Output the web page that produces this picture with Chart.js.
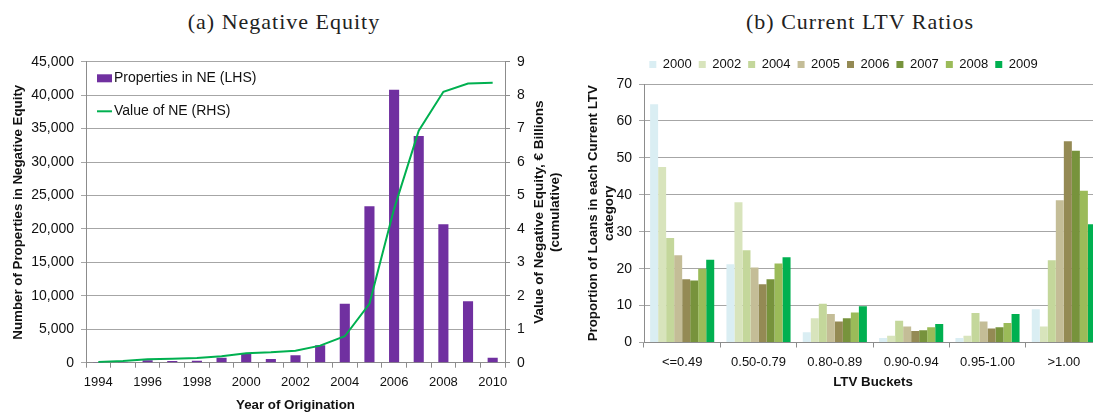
<!DOCTYPE html>
<html>
<head>
<meta charset="utf-8">
<script src="https://cdn.jsdelivr.net/npm/chart.js@4.4.1/dist/chart.umd.min.js"></script>
<style>
  html, body { margin: 0; padding: 0; background: #fff; }
  body { position: relative; width: 1093px; height: 412px; overflow: hidden; }
  .panel-title {
    position: absolute; top: 11px; line-height: 22px;
    font-family: "Liberation Serif", "Times New Roman", serif;
    font-size: 22px; letter-spacing: 1px; color: #222;
    white-space: nowrap; transform: translateX(-50%);
  }
  #boxA { position: absolute; left: 0; top: 40px; width: 575px; height: 380px; }
  #boxB { position: absolute; left: 585px; top: 40px; width: 547px; height: 372px; }
</style>
</head>
<body>
<div class="panel-title" style="left:284px">(a) Negative Equity</div>
<div class="panel-title" style="left:860px">(b) Current LTV Ratios</div>
<div id="boxA"><canvas id="neChart"></canvas></div>
<div id="boxB"><canvas id="ltvChart"></canvas></div>

<script>
// --- data: negative equity by year of origination ---
const years = ['1994', '1995', '1996', '1997', '1998', '1999', '2000', '2001', '2002',
               '2003', '2004', '2005', '2006', '2007', '2008', '2009', '2010'];
const propertiesNE = [100, 100, 350, 250, 300, 750, 1400, 550, 1100,
                      2600, 8800, 23400, 40800, 33900, 20700, 9200, 750];
const valueNE = [0.02, 0.05, 0.1, 0.12, 0.14, 0.19, 0.28, 0.31, 0.36,
                 0.51, 0.79, 1.76, 4.6, 6.94, 8.1, 8.35, 8.37];

// --- data: current LTV distribution by origination cohort ---
const ltvBuckets = ['<=0.49', '0.50-0.79', '0.80-0.89', '0.90-0.94', '0.95-1.00', '>1.00'];
const cohorts = ['2000', '2002', '2004', '2005', '2006', '2007', '2008', '2009'];
const ltv2000 = [64.5, 21.2, 2.8, 1.2, 1.2, 9.0];
const ltv2002 = [47.5, 38.0, 6.6, 1.8, 1.8, 4.3];
const ltv2004 = [28.3, 25.0, 10.5, 5.9, 8.0, 22.3];
const ltv2005 = [23.6, 20.3, 7.7, 4.3, 5.7, 38.5];
const ltv2006 = [17.1, 15.8, 5.7, 3.1, 3.8, 54.5];
const ltv2007 = [16.8, 17.1, 6.6, 3.3, 4.1, 51.9];
const ltv2008 = [20.0, 21.4, 8.1, 4.1, 5.3, 41.1];
const ltv2009 = [22.4, 23.1, 9.8, 5.0, 7.7, 32.0];
const cohortSeries = [ltv2000, ltv2002, ltv2004, ltv2005, ltv2006, ltv2007, ltv2008, ltv2009];
const cohortColors = ['#DAEEF3', '#D8E4BC', '#C4D79B', '#C4BD97', '#948A54', '#77933C', '#9BBB59', '#00B050'];

const gridColor = '#A6A6A6';
const axisColor = '#8C8C8C';
const sans = '"Liberation Sans", Arial, Helvetica, sans-serif';
const axisTitleFont = { weight: 'bold', size: 13.3 };

Chart.defaults.font.family = sans;
Chart.defaults.color = '#111';
Chart.defaults.animation = false;

// legend drawn inside the plot, top-left
const insideLegend = {
  id: 'insideLegend',
  afterDraw(chart) {
    const {ctx, chartArea} = chart;
    const [bars, line] = chart.data.datasets;
    const x0 = chartArea.left + 11;
    ctx.save();
    ctx.font = '14px ' + sans;
    ctx.textBaseline = 'middle';
    ctx.fillStyle = bars.backgroundColor;
    ctx.fillRect(x0, chartArea.top + 12.6, 15, 8);
    ctx.strokeStyle = line.borderColor;
    ctx.lineWidth = 2;
    ctx.beginPath();
    ctx.moveTo(x0, chartArea.top + 49.6);
    ctx.lineTo(x0 + 15, chartArea.top + 49.6);
    ctx.stroke();
    ctx.fillStyle = '#111';
    ctx.fillText(bars.label, x0 + 17, chartArea.top + 16.6);
    ctx.fillText(line.label, x0 + 17, chartArea.top + 49.6);
    ctx.restore();
  }
};

// right axis title reads bottom-to-top, two lines
const rightAxisTitle = {
  id: 'rightAxisTitle',
  afterDraw(chart) {
    const {ctx, chartArea} = chart;
    const s = chart.scales.y1;
    const cy = (chartArea.top + chartArea.bottom) / 2;
    ctx.save();
    ctx.translate(s.left + 34, cy);
    ctx.rotate(-Math.PI / 2);
    ctx.font = 'bold 13.5px ' + sans;
    ctx.fillStyle = '#111';
    ctx.textAlign = 'center';
    ctx.textBaseline = 'middle';
    ctx.fillText('Value of Negative Equity, € Billions', 0, 0);
    ctx.fillText('(cumulative)', 0, 16);
    ctx.restore();
  }
};

new Chart(document.getElementById('neChart'), {
  type: 'bar',
  data: {
    labels: years,
    datasets: [
      {
        type: 'bar', label: 'Properties in NE (LHS)', data: propertiesNE,
        backgroundColor: '#7030A0', yAxisID: 'y',
        categoryPercentage: 1, barPercentage: 0.41, order: 2
      },
      {
        type: 'line', label: 'Value of NE (RHS)', data: valueNE,
        borderColor: '#00B050', borderWidth: 2, pointRadius: 0, tension: 0,
        yAxisID: 'y1', order: 1
      }
    ]
  },
  options: {
    responsive: true,
    maintainAspectRatio: false,
    layout: { padding: { top: 21.7, left: 0, right: 0, bottom: 0 } },
    plugins: { legend: { display: false }, tooltip: { enabled: false } },
    scales: {
      x: {
        grid: { drawOnChartArea: false, tickLength: 5, color: axisColor },
        border: { color: axisColor },
        ticks: {
          autoSkip: false, maxRotation: 0, padding: 7, font: { size: 13 },
          callback: (v, i) => (i % 2 === 0 ? years[i] : '')
        },
        title: { display: true, text: 'Year of Origination', font: axisTitleFont,
                 padding: { top: 0, bottom: 7 } },
        afterFit: s => { s.height = 57.3; }
      },
      y: {
        position: 'left', min: 0, max: 45000,
        ticks: { stepSize: 5000, padding: 7, font: { size: 14 },
                 callback: v => v.toLocaleString('en-US') },
        grid: { color: gridColor, tickLength: 5 },
        border: { color: axisColor },
        title: { display: true, text: 'Number of Properties in Negative Equity',
                 font: axisTitleFont, padding: { top: 10.3, bottom: 0 } },
        afterFit: s => { s.width = 86; }
      },
      y1: {
        position: 'right', min: 0, max: 9,
        ticks: { stepSize: 1, padding: 7, font: { size: 14 } },
        grid: { drawOnChartArea: false, tickLength: 5, color: axisColor },
        border: { color: axisColor },
        afterFit: s => { s.width = 70; }
      }
    }
  },
  plugins: [insideLegend, rightAxisTitle]
});

// extra room under the top legend
const legendGap = {
  id: 'legendGap',
  beforeInit(chart) {
    const fit = chart.legend.fit;
    chart.legend.fit = function () {
      fit.call(this);
      this.height += 3;
    };
  }
};

new Chart(document.getElementById('ltvChart'), {
  type: 'bar',
  data: {
    labels: ltvBuckets,
    datasets: cohorts.map((c, i) => ({
      label: c,
      data: cohortSeries[i],
      backgroundColor: cohortColors[i],
      borderWidth: 0,
      categoryPercentage: 0.84,
      barPercentage: 1
    }))
  },
  options: {
    responsive: true,
    maintainAspectRatio: false,
    layout: { padding: { top: 11, left: 0, right: 30, bottom: 0 } },
    plugins: {
      legend: {
        position: 'top',
        labels: { boxWidth: 7, boxHeight: 7, padding: 7, font: { size: 13 }, color: '#111' }
      },
      tooltip: { enabled: false }
    },
    scales: {
      x: {
        grid: { drawOnChartArea: false, tickLength: 5, color: axisColor },
        border: { color: axisColor },
        ticks: { maxRotation: 0, padding: 7, font: { size: 13 } },
        title: { display: true, text: 'LTV Buckets', font: axisTitleFont,
                 padding: { top: 0, bottom: 21.3 } },
        afterFit: s => { s.height = 69.5; }
      },
      y: {
        min: 0, max: 70,
        ticks: { stepSize: 10, padding: 7, font: { size: 14 } },
        grid: { color: gridColor, tickLength: 5 },
        border: { color: axisColor },
        title: { display: true, text: ['Proportion of Loans in each Current LTV', 'category'],
                 font: axisTitleFont, padding: { top: 0, bottom: 0 } },
        afterFit: s => { s.width = 59; }
      }
    }
  },
  plugins: [legendGap]
});
</script>
</body>
</html>
